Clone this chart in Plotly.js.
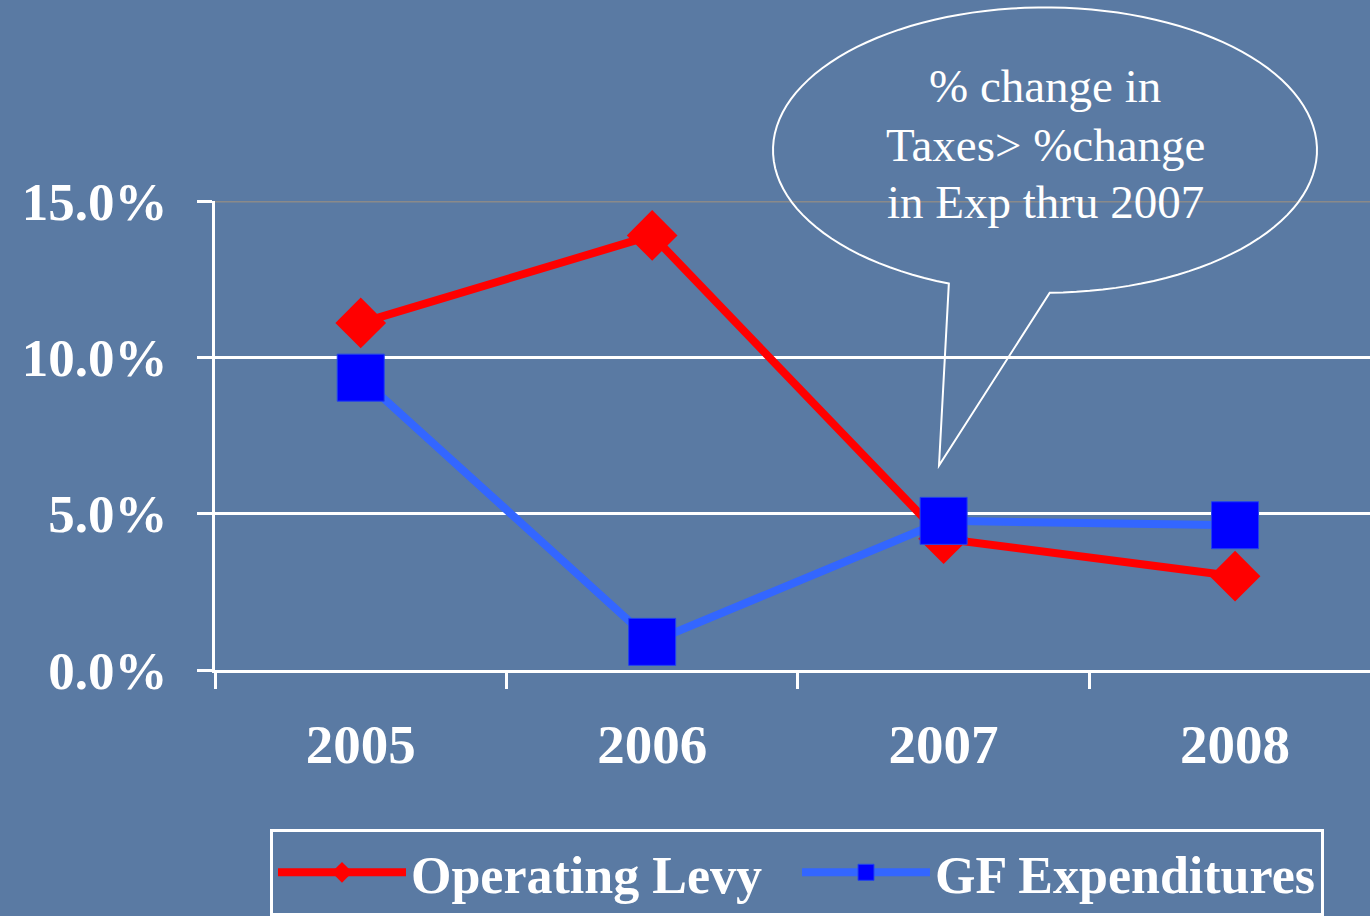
<!DOCTYPE html>
<html>
<head>
<meta charset="utf-8">
<script src="https://cdn.plot.ly/plotly-3.0.1.min.js"></script>
<style>
html,body{margin:0;padding:0;background:#5a7aa3;}
#chart{width:1370px;height:916px;}
</style>
</head>
<body>
<div id="chart"></div>
<script>
// ---- data ----
const years = ["2005", "2006", "2007", "2008"];
const operatingLevy = [11.1, 13.9, 4.2, 3.0];
const gfExpenditures = [9.35, 0.9, 4.77, 4.63];
const yTickVals = [0, 5, 10, 15];
const yTickText = ["0.0%", "5.0%", "10.0%", "15.0%"];
const bubbleLines = ["% change in", "Taxes> %change", "in Exp thru 2007"];

// ---- layout geometry (pixels) ----
const W = 1370, H = 916;
const M = {l: 215, r: 0, t: 201, b: 245};
const PW = W - M.l - M.r, PH = H - M.t - M.b;
function px(x) { return (x - M.l) / PW; }
function py(y) { return (H - M.b - y) / PH; }

// speech bubble path
const cx = 1045, cy = 150, rx = 272, ry = 143;
const t0 = 110.7, t1 = 449;
let path = "";
for (let i = 0; i <= 120; i++) {
  const t = (t0 + (t1 - t0) * i / 120) * Math.PI / 180;
  const x = cx + rx * Math.cos(t), y = cy + ry * Math.sin(t);
  path += (i === 0 ? "M" : "L") + px(x).toFixed(5) + "," + py(y).toFixed(5);
}
path += "L" + px(939).toFixed(5) + "," + py(466).toFixed(5) + "Z";

const serif = "'Liberation Serif', 'Times New Roman', Times, serif";

const traces = [
  {
    x: years, y: operatingLevy, name: "Operating Levy", type: "scatter", mode: "lines+markers",
    line: {color: "#ff0000", width: 8},
    marker: {symbol: "diamond", size: 39, color: "#ff0000"},
    cliponaxis: false
  },
  {
    x: years, y: gfExpenditures, name: "GF Expenditures", type: "scatter", mode: "lines+markers",
    line: {color: "#3366ff", width: 8},
    marker: {symbol: "square", size: 47, color: "#0000ff", line: {color: "#2244ee", width: 1}},
    cliponaxis: false
  }
];

const annotations = bubbleLines.map((s, i) => ({
  xref: "paper", yref: "paper", x: px(1045), y: py([86, 145, 202][i]),
  xanchor: "center", yanchor: "middle", showarrow: false, text: s,
  font: {family: serif, size: 47, color: "#ffffff"}
}));

const layout = {
  width: W, height: H,
  margin: M,
  paper_bgcolor: "#5a7aa3",
  plot_bgcolor: "rgba(0,0,0,0)",
  showlegend: true,
  xaxis: {
    type: "category", range: [-0.5, 3.463], fixedrange: true,
    showline: true, linecolor: "#ffffff", linewidth: 3,
    ticks: "outside", tickson: "boundaries", ticklen: 16, tickwidth: 3, tickcolor: "#ffffff",
    showgrid: false, zeroline: false,
    ticklabelstandoff: 24,
    tickfont: {family: serif, size: 55, color: "#ffffff", weight: "bold"}
  },
  yaxis: {
    range: [0, 15], fixedrange: true,
    tickvals: yTickVals, ticktext: yTickText,
    showline: true, linecolor: "#ffffff", linewidth: 3,
    ticks: "outside", ticklen: 15, tickwidth: 3, tickcolor: "#ffffff",
    showgrid: true, gridcolor: "#ffffff", gridwidth: 3, zeroline: false,
    ticklabelstandoff: 19,
    tickfont: {family: serif, size: 53, color: "#ffffff", weight: "bold"}
  },
  legend: {
    orientation: "h", xref: "paper", yref: "paper",
    x: px(270), y: py(830), xanchor: "left", yanchor: "top",
    bgcolor: "rgba(0,0,0,0)", bordercolor: "#ffffff", borderwidth: 3,
    itemwidth: 128, entrywidth: 381,
    font: {family: serif, size: 52, color: "#ffffff", weight: "bold"}
  },
  shapes: [
    {type: "line", xref: "paper", yref: "y", x0: 0, x1: 1, y0: 15, y1: 15, layer: "between",
     line: {color: "#8a8a8a", width: 3}},
    {type: "path", xref: "paper", yref: "paper", path: path, layer: "above",
     line: {color: "#ffffff", width: 2}, fillcolor: "rgba(0,0,0,0)"}
  ],
  annotations: annotations
};

Plotly.newPlot("chart", traces, layout, {displayModeBar: false, staticPlot: true});
</script>
</body>
</html>
